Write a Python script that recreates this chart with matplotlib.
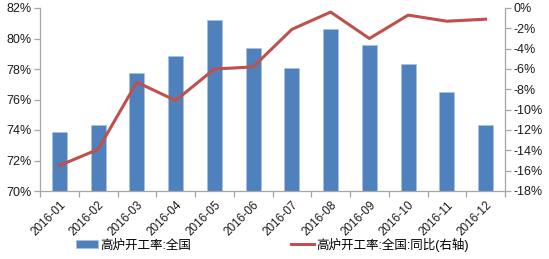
import matplotlib
matplotlib.use("Agg")
import matplotlib.pyplot as plt
import numpy as np
from matplotlib.ticker import FuncFormatter, MultipleLocator

plt.rcParams['font.family'] = ['Liberation Sans', 'Noto Sans CJK SC']

meses = ['2016-01', '2016-02', '2016-03', '2016-04', '2016-05', '2016-06',
         '2016-07', '2016-08', '2016-09', '2016-10', '2016-11', '2016-12']
# 高炉开工率:全国 (%)
taxa = [73.9, 74.3, 77.75, 78.85, 81.2, 79.4, 78.05, 80.65, 79.55, 78.3, 76.5, 74.3]
# 同比 (%), eixo direito
yoy = [-15.5, -13.9, -7.3, -9.1, -6.0, -5.8, -2.1, -0.4, -3.0, -0.7, -1.3, -1.1]

COR_BARRA = '#4F81BD'
COR_LINHA = '#C0504D'
COR_EIXO = '#A6A6A6'

fig = plt.figure(figsize=(5.49, 2.59), dpi=100)
ax = fig.add_axes([40 / 549, 1 - 191 / 259, 465 / 549, 183 / 259])
x = np.arange(len(meses))

ax.bar(x, taxa, width=0.39, color=COR_BARRA, edgecolor='#A9C1E0', linewidth=0.6,
       label='高炉开工率:全国', zorder=2)
ax.set_ylim(70, 82)
ax.set_xlim(-0.5, len(meses) - 0.5)
ax.yaxis.set_major_locator(MultipleLocator(2))
ax.yaxis.set_major_formatter(FuncFormatter(lambda v, p: f'{v:.0f}%'))

ax2 = ax.twinx()
ax2.plot(x, yoy, color=COR_LINHA, linewidth=2.2, label='高炉开工率:全国:同比(右轴)', zorder=3)
ax2.set_ylim(-18, 0)
ax2.yaxis.set_major_locator(MultipleLocator(2))
ax2.yaxis.set_major_formatter(FuncFormatter(lambda v, p: f'{v:.0f}%'))

# eixos estilo Excel
for a in (ax, ax2):
    a.spines['top'].set_visible(False)
    for s in ('left', 'right', 'bottom'):
        a.spines[s].set_color(COR_EIXO)
        a.spines[s].set_linewidth(0.9)
    a.tick_params(axis='y', colors=COR_EIXO, labelcolor='#1a1a1a', labelsize=9,
                  length=4, width=0.9, pad=2)
ax.spines['right'].set_visible(False)
ax2.spines['left'].set_visible(False)
ax2.spines['bottom'].set_visible(False)

ax.set_xticks(x)
ax.set_xticklabels(meses, rotation=45, ha='right', rotation_mode='anchor', fontsize=8.5,
                   color='#1a1a1a')
ax.tick_params(axis='x', which='major', length=0, pad=6)
ax.set_xticks(np.arange(-0.5, len(meses), 1), minor=True)
ax.tick_params(axis='x', which='minor', length=4, width=0.9, color=COR_EIXO)

h1, l1 = ax.get_legend_handles_labels()
h2, l2 = ax2.get_legend_handles_labels()
fig.legend(h1 + h2, l1 + l2, loc='lower left', bbox_to_anchor=(68 / 549, 0.0),
           ncol=2, frameon=False, fontsize=9, handlelength=1.8, handleheight=0.6,
           columnspacing=8.0, handletextpad=0.2, borderaxespad=0.2)

fig.savefig('out.png', dpi=100)
